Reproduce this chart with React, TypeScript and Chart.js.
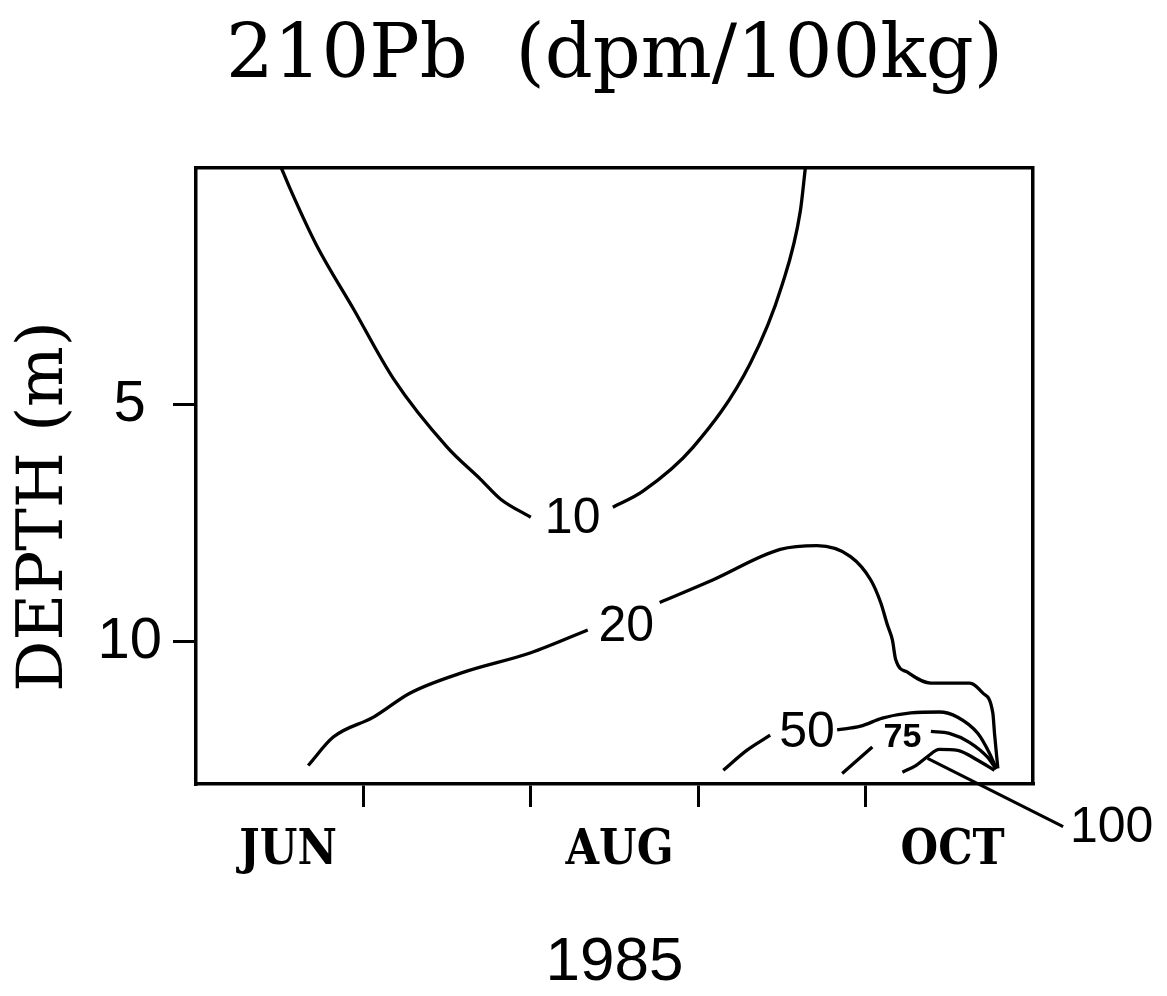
import React, { useEffect, useRef } from 'react';
import { Chart, registerables } from 'chart.js';

Chart.register(...registerables);

// ---- text ----
const chartTitle = '210Pb  (dpm/100kg)';
const xAxisTitle = '1985';
const yAxisTitle = 'DEPTH (m)';

// ---- axes (x in months: 6 = 1 Jun ... 11 = 1 Nov; y = depth in m) ----
const monthTickValues = [7, 8, 9, 10];
const monthLabelValues = [6.55, 8.53, 10.52];
const monthLabels = ['JUN', 'AUG', 'OCT'];
const depthTicks = [5, 10];

// ---- contour 10 ----
const c10LeftMonth = [6.51, 6.56, 6.72, 6.94, 7.18, 7.5, 7.7, 7.82, 8.0];
const c10LeftDepth = [0.0, 0.42, 1.63, 2.97, 4.45, 5.89, 6.57, 6.99, 7.37];
const c10RightMonth = [8.49, 8.67, 8.97, 9.31, 9.5, 9.61, 9.64];
const c10RightDepth = [7.16, 6.82, 5.89, 4.13, 2.48, 0.91, 0.0];

// ---- contour 20 ----
const c20LeftMonth = [6.67, 6.82, 7.06, 7.28, 7.6, 8.0, 8.34];
const c20LeftDepth = [12.61, 12.01, 11.59, 11.08, 10.64, 10.23, 9.75];
const c20RightMonth = [8.77, 9.09, 9.49, 9.71, 9.91, 10.03, 10.09, 10.13, 10.16, 10.18, 10.25, 10.39, 10.62, 10.7, 10.76, 10.77, 10.79];
const c20RightDepth = [9.17, 8.69, 8.05, 7.97, 8.2, 8.69, 9.17, 9.64, 9.96, 10.38, 10.64, 10.87, 10.87, 11.08, 11.5, 11.93, 12.67];

// ---- contour 50 ----
const c50LeftMonth = [9.15, 9.29, 9.43];
const c50LeftDepth = [12.71, 12.29, 11.97];
const c50RightMonth = [9.83, 9.97, 10.1, 10.27, 10.44, 10.55, 10.67, 10.74, 10.78];
const c50RightDepth = [11.86, 11.78, 11.61, 11.5, 11.48, 11.59, 11.93, 12.35, 12.67];

// ---- contour 75 ----
const c75LeftMonth = [9.86, 10.04];
const c75LeftDepth = [12.78, 12.22];
const c75RightMonth = [10.39, 10.5, 10.62, 10.73, 10.78];
const c75RightDepth = [11.89, 11.93, 12.12, 12.44, 12.69];

// ---- contour 100 ----
const c100Month = [10.22, 10.3, 10.37, 10.44, 10.55, 10.67, 10.77];
const c100Depth = [12.75, 12.61, 12.42, 12.27, 12.29, 12.5, 12.71];

// leader line to the "100" label
const leaderMonth = [10.37, 11.18];
const leaderDepth = [12.46, 13.9];

// ---- contour labels ----
const contourLabelText = ['10', '20', '50', '75', '100'];
const contourLabelMonth = [8.25, 8.57, 9.65, 10.22, 11.47];
const contourLabelDepth = [7.42, 9.7, 11.93, 12.03, 13.94];

const segments = [
  [c10LeftMonth, c10LeftDepth],
  [c10RightMonth, c10RightDepth],
  [c20LeftMonth, c20LeftDepth],
  [c20RightMonth, c20RightDepth],
  [c50LeftMonth, c50LeftDepth],
  [c50RightMonth, c50RightDepth],
  [c75LeftMonth, c75LeftDepth],
  [c75RightMonth, c75RightDepth],
  [c100Month, c100Depth],
];

const toPoints = (m: number[], d: number[]) => m.map((x, i) => ({ x, y: d[i] }));

const contourLabelPlugin = {
  id: 'contourLabels',
  afterDatasetsDraw(chart: any) {
    const { ctx } = chart;
    const xs = chart.scales.x;
    const ys = chart.scales.y;
    ctx.save();
    ctx.fillStyle = '#000';
    ctx.textAlign = 'center';
    ctx.textBaseline = 'middle';
    contourLabelText.forEach((t, i) => {
      const px = xs.getPixelForValue(contourLabelMonth[i]);
      const py = ys.getPixelForValue(contourLabelDepth[i]);
      ctx.font = t === '75' ? 'bold 34px "Liberation Sans"' : '50px "Liberation Sans"';
      ctx.fillText(t, px, py);
    });
    ctx.restore();
  },
};

const frameBorder = { display: true, color: '#000', width: 3.5 };

export default function App() {
  const ref = useRef<HTMLCanvasElement | null>(null);

  useEffect(() => {
    if (!ref.current) return;
    const datasets: any[] = segments.map(([m, d]) => ({
      data: toPoints(m, d),
      borderColor: '#000',
      borderWidth: 3.3,
      pointRadius: 0,
      cubicInterpolationMode: 'monotone',
      fill: false,
      xAxisID: 'x',
      yAxisID: 'y',
    }));
    datasets.push({
      data: toPoints(leaderMonth, leaderDepth),
      borderColor: '#000',
      borderWidth: 3,
      pointRadius: 0,
      fill: false,
      clip: false,
      xAxisID: 'x',
      yAxisID: 'y',
    });

    const chart = new Chart(ref.current, {
      type: 'line',
      data: { datasets },
      plugins: [contourLabelPlugin],
      options: {
        animation: false,
        responsive: false,
        devicePixelRatio: 1,
        layout: { padding: { left: 0, top: 0, right: 134, bottom: 0 } },
        plugins: {
          legend: { display: false },
          tooltip: { enabled: false },
          title: {
            display: true,
            text: chartTitle,
            fullSize: false,
            color: '#000',
            font: { family: 'DejaVu Serif', size: 75, weight: 'normal', lineHeight: 1.2 },
            padding: { top: 13, bottom: 65 },
          },
        },
        scales: {
          x: {
            type: 'linear',
            position: 'bottom',
            min: 6,
            max: 11,
            afterBuildTicks: (s: any) => {
              s.ticks = [...monthTickValues, ...monthLabelValues]
                .sort((a, b) => a - b)
                .map((v) => ({ value: v }));
            },
            afterFit: (s: any) => {
              s.height = 212;
            },
            ticks: {
              autoSkip: false,
              maxRotation: 0,
              minRotation: 0,
              padding: 16,
              color: '#000',
              font: { family: '"DejaVu Serif Condensed", "DejaVu Serif"', size: 48, weight: 'bold' },
              callback: (v: any) => {
                const i = monthLabelValues.indexOf(Number(v));
                return i >= 0 ? monthLabels[i] : '';
              },
            },
            grid: {
              drawOnChartArea: false,
              tickLength: 23,
              lineWidth: 3,
              color: '#000',
              tickColor: (ctx: any) =>
                ctx.tick && monthTickValues.includes(ctx.tick.value) ? '#000' : 'rgba(0,0,0,0)',
            },
            border: frameBorder,
            title: {
              display: true,
              text: xAxisTitle,
              color: '#000',
              font: { family: 'Liberation Sans', size: 62, lineHeight: 1 },
              padding: { top: 0, bottom: 2 },
            },
          },
          y: {
            type: 'linear',
            position: 'left',
            reverse: true,
            min: 0,
            max: 13,
            afterBuildTicks: (s: any) => {
              s.ticks = depthTicks.map((v) => ({ value: v }));
            },
            afterFit: (s: any) => {
              s.width = 196;
            },
            ticks: {
              crossAlign: 'center',
              padding: 11,
              color: '#000',
              font: { family: 'Liberation Sans', size: 58 },
            },
            grid: { drawOnChartArea: false, tickLength: 23, lineWidth: 3, color: '#000' },
            border: frameBorder,
            title: {
              display: true,
              text: yAxisTitle + '   ',
              color: '#000',
              font: { family: 'DejaVu Serif', size: 64, lineHeight: 1 },
              padding: { top: 13, bottom: 0 },
            },
          },
          x2: {
            type: 'linear',
            position: 'top',
            min: 6,
            max: 11,
            grid: { display: false, drawTicks: false },
            ticks: { display: false },
            border: frameBorder,
            afterFit: (s: any) => {
              s.height = 0;
            },
          },
          y2: {
            type: 'linear',
            position: 'right',
            reverse: true,
            min: 0,
            max: 13,
            grid: { display: false, drawTicks: false },
            ticks: { display: false },
            border: frameBorder,
            afterFit: (s: any) => {
              s.width = 0;
            },
          },
        },
      } as any,
    });
    return () => chart.destroy();
  }, []);

  return (
    <div style={{ position: 'absolute', left: 0, top: 0, width: 1167, height: 996, background: '#fff' }}>
      <canvas ref={ref} width={1167} height={996} style={{ display: 'block' }} />
    </div>
  );
}
